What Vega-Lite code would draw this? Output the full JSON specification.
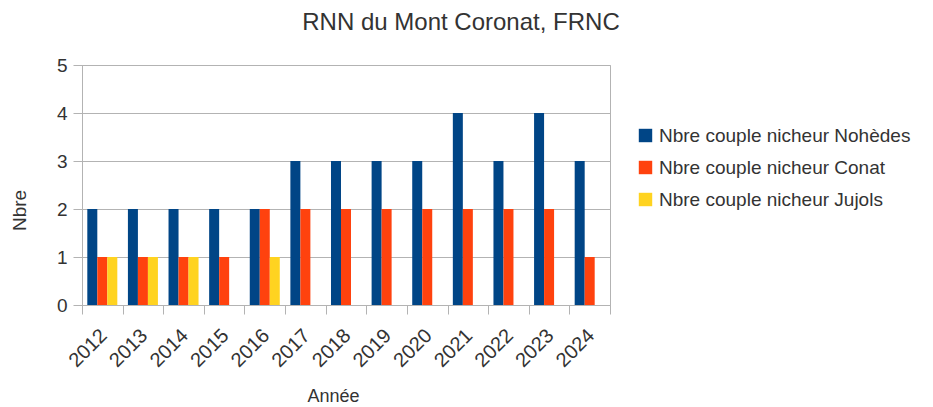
{
  "$schema": "https://vega.github.io/schema/vega-lite/v6.json",
  "autosize": {"type": "none"},
  "width": 528,
  "height": 240,
  "padding": {"left": 82, "top": 65, "right": 323, "bottom": 102},
  "background": "white",
  "config": {
    "font": "Liberation Sans",
    "view": {"stroke": "#b3b3b3", "strokeWidth": 1},
    "axis": {"labelFont": "Liberation Sans", "titleFont": "Liberation Sans", "labelColor": "#333333", "titleColor": "#333333", "titleFontWeight": "normal"},
    "legend": {"labelFont": "Liberation Sans"}
  },
  "title": {
    "text": "RNN du Mont Coronat, FRNC",
    "fontSize": 24,
    "fontWeight": "normal",
    "color": "#333333",
    "font": "Liberation Sans",
    "anchor": "middle",
    "dx": 115,
    "offset": 21
  },
  "data": {
    "values": [
      {"annee": "2012", "serie": "Nbre couple nicheur Nohèdes", "n": 2},
      {"annee": "2012", "serie": "Nbre couple nicheur Conat", "n": 1},
      {"annee": "2012", "serie": "Nbre couple nicheur Jujols", "n": 1},
      {"annee": "2013", "serie": "Nbre couple nicheur Nohèdes", "n": 2},
      {"annee": "2013", "serie": "Nbre couple nicheur Conat", "n": 1},
      {"annee": "2013", "serie": "Nbre couple nicheur Jujols", "n": 1},
      {"annee": "2014", "serie": "Nbre couple nicheur Nohèdes", "n": 2},
      {"annee": "2014", "serie": "Nbre couple nicheur Conat", "n": 1},
      {"annee": "2014", "serie": "Nbre couple nicheur Jujols", "n": 1},
      {"annee": "2015", "serie": "Nbre couple nicheur Nohèdes", "n": 2},
      {"annee": "2015", "serie": "Nbre couple nicheur Conat", "n": 1},
      {"annee": "2015", "serie": "Nbre couple nicheur Jujols", "n": 0},
      {"annee": "2016", "serie": "Nbre couple nicheur Nohèdes", "n": 2},
      {"annee": "2016", "serie": "Nbre couple nicheur Conat", "n": 2},
      {"annee": "2016", "serie": "Nbre couple nicheur Jujols", "n": 1},
      {"annee": "2017", "serie": "Nbre couple nicheur Nohèdes", "n": 3},
      {"annee": "2017", "serie": "Nbre couple nicheur Conat", "n": 2},
      {"annee": "2017", "serie": "Nbre couple nicheur Jujols", "n": 0},
      {"annee": "2018", "serie": "Nbre couple nicheur Nohèdes", "n": 3},
      {"annee": "2018", "serie": "Nbre couple nicheur Conat", "n": 2},
      {"annee": "2018", "serie": "Nbre couple nicheur Jujols", "n": 0},
      {"annee": "2019", "serie": "Nbre couple nicheur Nohèdes", "n": 3},
      {"annee": "2019", "serie": "Nbre couple nicheur Conat", "n": 2},
      {"annee": "2019", "serie": "Nbre couple nicheur Jujols", "n": 0},
      {"annee": "2020", "serie": "Nbre couple nicheur Nohèdes", "n": 3},
      {"annee": "2020", "serie": "Nbre couple nicheur Conat", "n": 2},
      {"annee": "2020", "serie": "Nbre couple nicheur Jujols", "n": 0},
      {"annee": "2021", "serie": "Nbre couple nicheur Nohèdes", "n": 4},
      {"annee": "2021", "serie": "Nbre couple nicheur Conat", "n": 2},
      {"annee": "2021", "serie": "Nbre couple nicheur Jujols", "n": 0},
      {"annee": "2022", "serie": "Nbre couple nicheur Nohèdes", "n": 3},
      {"annee": "2022", "serie": "Nbre couple nicheur Conat", "n": 2},
      {"annee": "2022", "serie": "Nbre couple nicheur Jujols", "n": 0},
      {"annee": "2023", "serie": "Nbre couple nicheur Nohèdes", "n": 4},
      {"annee": "2023", "serie": "Nbre couple nicheur Conat", "n": 2},
      {"annee": "2023", "serie": "Nbre couple nicheur Jujols", "n": 0},
      {"annee": "2024", "serie": "Nbre couple nicheur Nohèdes", "n": 3},
      {"annee": "2024", "serie": "Nbre couple nicheur Conat", "n": 1},
      {"annee": "2024", "serie": "Nbre couple nicheur Jujols", "n": 0}
    ]
  },
  "mark": {"type": "bar"},
  "encoding": {
    "x": {
      "field": "annee",
      "type": "nominal",
      "scale": {"paddingInner": 0, "paddingOuter": 0},
      "axis": {
        "title": "Année",
        "titleFontSize": 18,
        "titleX": 251,
        "titleY": 82,
        "titleBaseline": "top",
        "labelAngle": -45,
        "labelFontSize": 20,
        "labelPadding": 11,
        "labelOffset": -6,
        "labelOverlap": false,
        "tickBand": "extent",
        "tickSize": 9,
        "tickColor": "#b3b3b3",
        "domainColor": "#b3b3b3",
        "grid": false
      }
    },
    "xOffset": {
      "field": "serie",
      "type": "nominal",
      "sort": ["Nbre couple nicheur Nohèdes", "Nbre couple nicheur Conat", "Nbre couple nicheur Jujols"],
      "scale": {"paddingInner": 0, "paddingOuter": 0.53}
    },
    "y": {
      "field": "n",
      "type": "quantitative",
      "scale": {"domain": [0, 5], "nice": false},
      "axis": {
        "title": "Nbre",
        "titleFontSize": 19,
        "titleX": -57,
        "titleY": 145,
        "titleAngle": -90,
        "titleAlign": "center",
        "titleBaseline": "alphabetic",
        "values": [0, 1, 2, 3, 4, 5],
        "labelFontSize": 19,
        "labelPadding": 6,
        "tickSize": 9,
        "tickColor": "#b3b3b3",
        "domainColor": "#b3b3b3",
        "gridColor": "#b3b3b3",
        "format": "d"
      }
    },
    "color": {
      "field": "serie",
      "type": "nominal",
      "sort": ["Nbre couple nicheur Nohèdes", "Nbre couple nicheur Conat", "Nbre couple nicheur Jujols"],
      "scale": {"range": ["#004586", "#ff420e", "#ffd320"]},
      "legend": {
        "title": null,
        "orient": "none",
        "legendX": 554,
        "legendY": 61,
        "symbolType": "square",
        "symbolSize": 180,
        "symbolStrokeWidth": 0,
        "symbolOpacity": 1,
        "labelFontSize": 19,
        "labelColor": "#333333",
        "labelOffset": 4,
        "rowPadding": 12,
        "labelLimit": 400
      }
    }
  }
}
